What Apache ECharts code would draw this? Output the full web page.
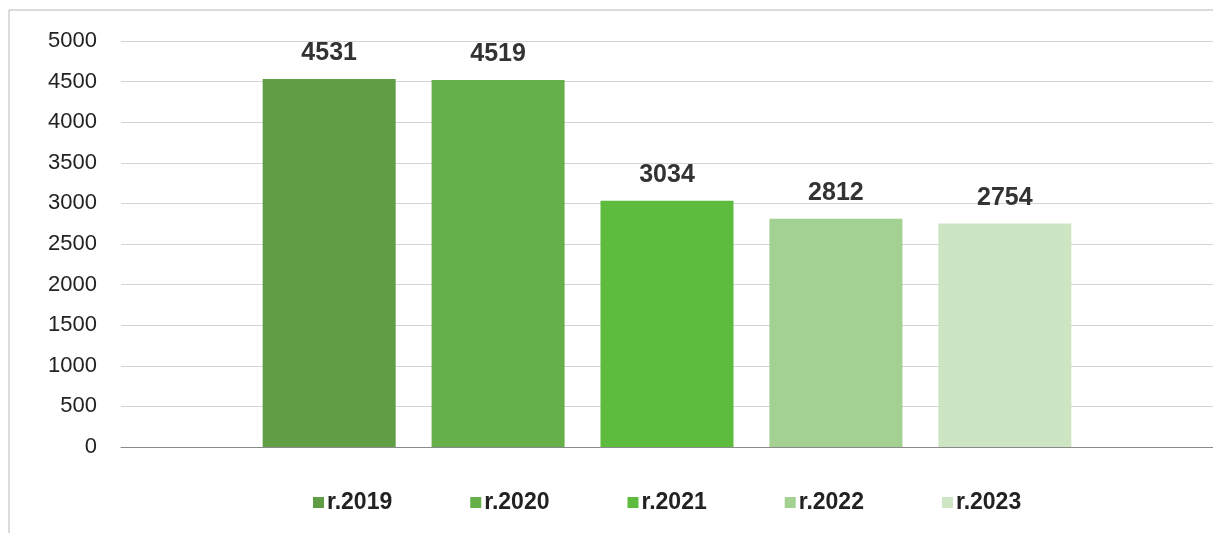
<!DOCTYPE html>
<html>
<head>
<meta charset="utf-8">
<script src="https://cdn.jsdelivr.net/npm/echarts@6/dist/echarts.min.js"></script>
<style>
html,body{margin:0;padding:0;background:#fff;}
#chart{width:1213px;height:533px;}
</style>
</head>
<body>
<div id="chart"></div>
<script>
const seriesNames = ['r.2019', 'r.2020', 'r.2021', 'r.2022', 'r.2023'];
const seriesValues = [4531, 4519, 3034, 2812, 2754];
const seriesColors = ['#5f9e44', '#66b04a', '#5dbb3e', '#a2d191', '#cde5c3'];
const categories = [''];
const yTicks = { min: 0, max: 5000, interval: 500 };

const chart = echarts.init(document.getElementById('chart'));
const series = seriesNames.map((name, i) => ({
  name: name,
  type: 'bar',
  data: [seriesValues[i]],
  barWidth: 133,
  barGap: '27%',
  itemStyle: { color: seriesColors[i] },
  label: {
    show: true,
    position: 'top',
    distance: 13,
    fontFamily: 'Liberation Sans, Arial, sans-serif',
    fontSize: 25,
    fontWeight: 'bold',
    color: '#333'
  }
}));

chart.setOption({
  animation: false,
  backgroundColor: '#fff',
  grid: { left: 121, right: 0, top: 41, bottom: 86, containLabel: false },
  legend: {
    data: seriesNames,
    bottom: 14,
    left: 308,
    itemWidth: 11,
    itemHeight: 11,
    itemGap: 78,
    icon: 'rect',
    textStyle: {
      fontFamily: 'Liberation Sans, Arial, sans-serif',
      fontSize: 23,
      fontWeight: 'bold',
      color: '#222',
      padding: [0, 0, 0, -2]
    }
  },
  xAxis: {
    type: 'category',
    data: categories,
    axisTick: { show: false },
    axisLabel: { show: false },
    axisLine: { show: true, lineStyle: { color: '#8a8a8a', width: 1 } }
  },
  yAxis: {
    type: 'value',
    min: yTicks.min,
    max: yTicks.max,
    interval: yTicks.interval,
    axisLine: { show: false },
    axisTick: { show: false },
    axisLabel: {
      margin: 24,
      formatter: v => String(v),
      fontFamily: 'Liberation Sans, Arial, sans-serif',
      fontSize: 22,
      color: '#222'
    },
    splitLine: { lineStyle: { color: '#d4d4d4', width: 1 } }
  },
  graphic: [
    {
      type: 'polyline',
      shape: { points: [[9, 533], [9, 10], [1213, 10]] },
      style: { stroke: '#b8b8b8', lineWidth: 1, fill: null }
    }
  ],
  series: series
});
</script>
</body>
</html>
